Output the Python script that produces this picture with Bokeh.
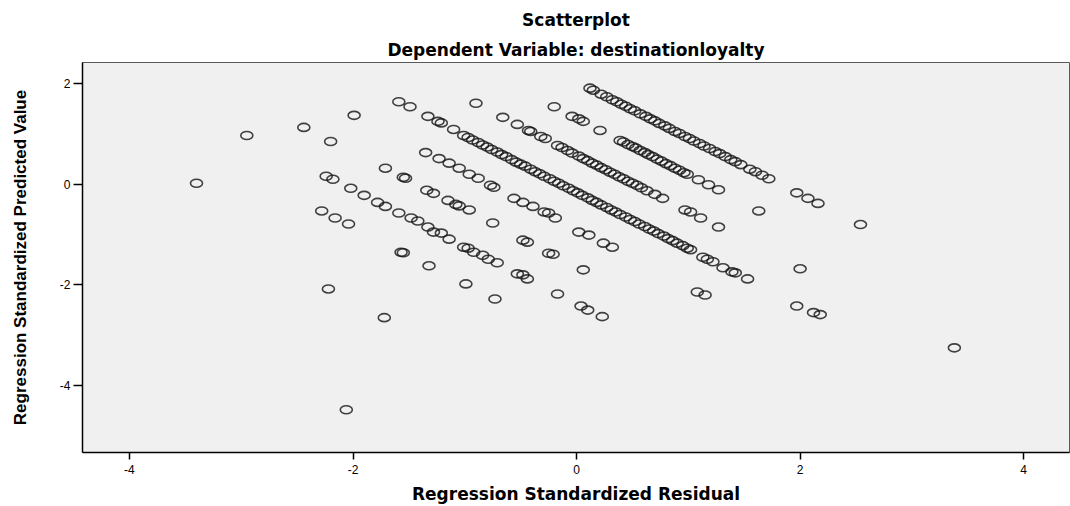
from bokeh.plotting import figure
from bokeh.models import Range1d, FixedTicker, Title, ColumnDataSource
from bokeh.embed import file_html
from bokeh.resources import INLINE

# Diagonal band 1 (top)
res_1 = [0.12, 0.15, 0.22, 0.27, 0.32, 0.36, 0.40, 0.44, 0.48, 0.52, 0.57, 0.62, 0.66, 0.70, 0.74,
         0.79, 0.83, 0.88, 0.92, 0.97, 1.01, 1.05, 1.10, 1.14, 1.19, 1.24, 1.28, 1.33, 1.38, 1.42,
         1.47, 1.55, 1.60, 1.66, 1.72, 1.97, 2.07, 2.16, 2.54]
pred_1 = [1.91, 1.87, 1.79, 1.74, 1.68, 1.64, 1.59, 1.55, 1.50, 1.46, 1.40, 1.35, 1.30, 1.26, 1.21,
          1.16, 1.11, 1.05, 1.01, 0.95, 0.91, 0.86, 0.81, 0.76, 0.71, 0.65, 0.61, 0.55, 0.49, 0.45,
          0.39, 0.30, 0.25, 0.18, 0.11, -0.17, -0.28, -0.38, -0.80]

# Band 2
res_2 = [-0.20, -0.04, 0.02, 0.06, 0.21, 0.39, 0.42, 0.46, 0.50, 0.53, 0.57, 0.61, 0.64, 0.68, 0.72,
         0.76, 0.80, 0.84, 0.88, 0.92, 0.96, 0.99, 1.09, 1.18, 1.27, 1.63]
pred_2 = [1.54, 1.35, 1.30, 1.25, 1.07, 0.87, 0.84, 0.79, 0.75, 0.72, 0.67, 0.63, 0.59, 0.55, 0.50,
          0.46, 0.41, 0.37, 0.32, 0.28, 0.23, 0.20, 0.09, -0.01, -0.11, -0.53]

# Band 3
res_3 = [-0.90, -0.66, -0.53, -0.43, -0.41, -0.32, -0.28, -0.17, -0.13, -0.08, -0.04, 0.02, 0.06, 0.10,
         0.14, 0.18, 0.22, 0.26, 0.30, 0.34, 0.38, 0.42, 0.46, 0.50, 0.54, 0.58, 0.63, 0.70, 0.77,
         0.97, 1.02, 1.11, 1.27, 2.00, 3.38]
pred_3 = [1.61, 1.33, 1.19, 1.07, 1.05, 0.95, 0.91, 0.77, 0.73, 0.67, 0.62, 0.56, 0.51, 0.47,
          0.42, 0.38, 0.33, 0.29, 0.24, 0.20, 0.15, 0.11, 0.06, 0.02, -0.02, -0.07, -0.13, -0.20, -0.28,
          -0.51, -0.55, -0.67, -0.85, -1.68, -3.25]

# Band 4 (central, densest)
res_4a = [-1.59, -1.49, -1.33, -1.24, -1.21, -1.10, -1.01, -0.97, -0.93, -0.88, -0.84, -0.80, -0.76,
          -0.71, -0.67, -0.63, -0.58, -0.54, -0.50, -0.46, -0.41, -0.37, -0.33, -0.29, -0.24, -0.20,
          -0.16, -0.12, -0.07, -0.03]
pred_4a = [1.64, 1.54, 1.35, 1.25, 1.22, 1.09, 0.97, 0.93, 0.88, 0.83, 0.78, 0.74, 0.69,
           0.64, 0.59, 0.55, 0.49, 0.44, 0.40, 0.36, 0.30, 0.25, 0.21, 0.16, 0.11, 0.06,
           0.02, -0.03, -0.08, -0.13]
res_4b = [0.01, 0.05, 0.10, 0.14, 0.18, 0.22, 0.27, 0.31, 0.35, 0.39, 0.44, 0.48, 0.52, 0.56, 0.61,
          0.65, 0.69, 0.73, 0.78, 0.82, 0.86, 0.90, 0.95, 0.99, 1.02, 1.13, 1.17, 1.22, 1.31, 1.39,
          1.42, 1.53, 1.97, 2.12, 2.18]
pred_4b = [-0.17, -0.22, -0.27, -0.32, -0.36, -0.41, -0.46, -0.51, -0.55, -0.60, -0.65, -0.70, -0.74,
           -0.79, -0.84, -0.89, -0.93, -0.98, -1.03, -1.08, -1.12, -1.17, -1.22, -1.27, -1.30, -1.45,
           -1.49, -1.54, -1.66, -1.74, -1.76, -1.88, -2.42, -2.55, -2.59]

# Band 5
res_5 = [-1.99, -1.35, -1.23, -1.14, -1.05, -0.96, -0.88, -0.77, -0.74, -0.56, -0.48, -0.39, -0.29,
         -0.25, -0.19, 0.02, 0.11, 0.24, 0.32, 1.08, 1.15]
pred_5 = [1.37, 0.63, 0.51, 0.42, 0.32, 0.20, 0.12, -0.02, -0.06, -0.28, -0.36, -0.44, -0.55,
          -0.57, -0.67, -0.95, -1.01, -1.17, -1.25, -2.14, -2.20]

# Band 6
res_6 = [-2.44, -2.20, -1.71, -1.55, -1.53, -1.34, -1.28, -1.15, -1.08, -1.05, -0.96, -0.75, -0.48,
         -0.44, -0.25, -0.21, 0.06]
pred_6 = [1.13, 0.85, 0.32, 0.14, 0.12, -0.12, -0.18, -0.32, -0.40, -0.43, -0.51, -0.77, -1.11,
          -1.15, -1.37, -1.39, -1.70]

# Band 7
res_7 = [-2.95, -2.24, -2.18, -2.02, -1.90, -1.78, -1.71, -1.59, -1.48, -1.42, -1.33, -1.28, -1.21,
         -1.14, -1.01, -0.97, -0.92, -0.84, -0.79, -0.71, -0.53, -0.48, -0.44, -0.17, 0.04, 0.10, 0.23]
pred_7 = [0.97, 0.16, 0.10, -0.08, -0.22, -0.36, -0.44, -0.57, -0.67, -0.73, -0.85, -0.95, -0.97,
          -1.09, -1.25, -1.27, -1.35, -1.41, -1.49, -1.56, -1.78, -1.80, -1.88, -2.18, -2.42, -2.50, -2.63]

# Lower bands and isolated cases
res_8 = [-3.40, -2.28, -2.16, -2.04, -1.57, -1.55, -1.32, -0.99, -0.73, -2.22, -1.72, -2.06]
pred_8 = [0.02, -0.53, -0.67, -0.79, -1.35, -1.36, -1.62, -1.98, -2.28, -2.08, -2.65, -4.48]

x_ticks = [-4, -2, 0, 2, 4]
y_ticks = [-4, -2, 0, 2]
x_tick_labels = ["-4", "-2", "0", "2", "4"]
y_tick_labels = ["-4", "-2", "0", "2"]

xs = res_1 + res_2 + res_3 + res_4a + res_4b + res_5 + res_6 + res_7 + res_8
ys = pred_1 + pred_2 + pred_3 + pred_4a + pred_4b + pred_5 + pred_6 + pred_7 + pred_8
src = ColumnDataSource(data=dict(x=xs, y=ys))

p = figure(width=1070, height=506, x_range=Range1d(-4.42, 4.41), y_range=Range1d(-5.33, 2.42),
           output_backend="svg", toolbar_location=None,
           min_border_left=82, min_border_right=1, min_border_top=62, min_border_bottom=53)
p.background_fill_color = "#F0F0F0"
p.border_fill_color = "white"
p.outline_line_color = "#5a5a5a"
p.outline_line_width = 1
p.xgrid.visible = False
p.ygrid.visible = False

p.ellipse(x="x", y="y", width=12, height=8, width_units="screen", height_units="screen",
          fill_color=None, line_color="#141414", line_alpha=0.8, line_width=1.6, source=src)

for ax in (p.xaxis[0], p.yaxis[0]):
    ax.axis_line_color = "black"
    ax.axis_line_width = 1.5
    ax.major_tick_line_color = "black"
    ax.major_tick_line_width = 1.5
    ax.major_tick_in = 0
    ax.minor_tick_in = 0
    ax.minor_tick_out = 0
    ax.major_label_text_font = "Liberation Sans"
    ax.major_label_text_font_size = "12px"
    ax.major_label_text_color = "black"
    ax.axis_label_text_font_style = "bold"
    ax.axis_label_text_color = "black"

p.xaxis.ticker = FixedTicker(ticks=x_ticks)
p.yaxis.ticker = FixedTicker(ticks=y_ticks)
p.xaxis.major_label_overrides = {t: s for t, s in zip(x_ticks, x_tick_labels)}
p.yaxis.major_label_overrides = {t: s for t, s in zip(y_ticks, y_tick_labels)}
p.xaxis.major_tick_out = 7
p.yaxis.major_tick_out = 9
p.xaxis.major_label_standoff = 5
p.yaxis.major_label_standoff = 3
p.xaxis.axis_label = "Regression Standardized Residual"
p.xaxis.axis_label_text_font = "DejaVu Sans"
p.xaxis.axis_label_text_font_size = "17px"
p.xaxis.axis_label_standoff = 7
p.yaxis.axis_label = "Regression Standardized Predicted Value"
p.yaxis.axis_label_text_font = "Liberation Sans"
p.yaxis.axis_label_text_font_size = "17px"
p.yaxis.axis_label_standoff = 27

sub = Title(text="Dependent Variable: destinationloyalty", align="center", text_font="DejaVu Sans",
            text_font_size="17px", text_font_style="bold", text_color="black", standoff=5)
main = Title(text="Scatterplot", align="center", text_font="DejaVu Sans",
             text_font_size="17px", text_font_style="bold", text_color="black", standoff=11)
p.add_layout(sub, "above")
p.add_layout(main, "above")

open("out.html", "w").write(file_html(p, INLINE))
